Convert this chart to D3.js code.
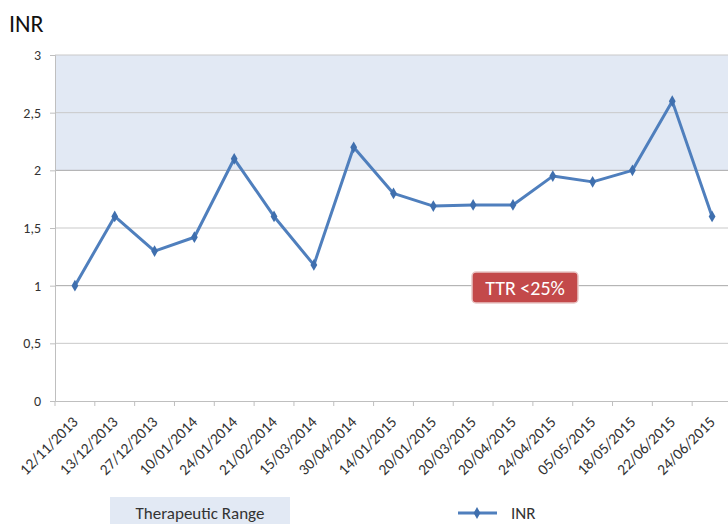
<!DOCTYPE html>
<html>
<head>
<meta charset="utf-8">
<script src="https://cdn.jsdelivr.net/npm/d3@7"></script>
<style>
  body { margin: 0; background: #fff; }
  svg { display: block; font-family: Carlito, Lato, "Open Sans", sans-serif; }
</style>
</head>
<body>
<svg id="chart" width="728" height="524"></svg>
<script>
const dates = ["12/11/2013", "13/12/2013", "27/12/2013", "10/01/2014", "24/01/2014",
    "21/02/2014", "15/03/2014", "30/04/2014", "14/01/2015", "20/01/2015", "20/03/2015",
    "20/04/2015", "24/04/2015", "05/05/2015", "18/05/2015", "22/06/2015", "24/06/2015"];
const inr = [1.0, 1.6, 1.3, 1.42, 2.1, 1.6, 1.18, 2.2, 1.8, 1.69, 1.7, 1.7, 1.95, 1.9, 2.0, 2.6, 1.6];
const yTicks = [0, 0.5, 1, 1.5, 2, 2.5, 3];
const rangeLow = 2, rangeHigh = 3;
const ttrLabel = "TTR <25%";

const fontFam = 'Carlito, Lato, "Open Sans", sans-serif';
const svg = d3.select('#chart');
const plotLeft = 55, plotRight = 732, plotTop = 55, plotBottom = 401;

const x = d3.scaleBand().domain(dates).range([plotLeft, plotRight]);
const y = d3.scaleLinear().domain([0, 3]).range([plotBottom, plotTop]);

// title
svg.append('text')
    .attr('x', 9).attr('y', 32)
    .attr('font-size', 24).attr('fill', '#111')
    .text('INR');

// therapeutic range band
svg.append('rect')
    .attr('x', plotLeft).attr('y', y(rangeHigh))
    .attr('width', plotRight - plotLeft).attr('height', y(rangeLow) - y(rangeHigh))
    .attr('fill', '#e2e9f4');

// gridlines
svg.append('g')
    .selectAll('line')
    .data(yTicks.filter(d => d > 0))
    .join('line')
    .attr('x1', plotLeft).attr('x2', plotRight)
    .attr('y1', d => y(d)).attr('y2', d => y(d))
    .attr('stroke', d => (d === 1 || d === 2) ? '#a8a8a8' : '#c9c9c9')
    .attr('stroke-width', 1);

// y axis
const yAxis = svg.append('g')
    .attr('transform', `translate(${plotLeft},0)`)
    .call(d3.axisLeft(y).tickValues(yTicks).tickSize(5)
        .tickFormat(d => String(d).replace('.', ',')));
yAxis.select('.domain').attr('stroke', '#bfbfbf');
yAxis.selectAll('.tick line').attr('stroke', '#bfbfbf');
yAxis.selectAll('.tick text')
    .attr('x', -14).attr('font-size', 14).attr('fill', '#333')
    .attr('font-family', fontFam);

// x axis
const xAxis = svg.append('g')
    .attr('transform', `translate(0,${plotBottom})`)
    .call(d3.axisBottom(x).tickSize(0));
xAxis.select('.domain').attr('stroke', '#bfbfbf');
xAxis.selectAll('.tick text')
    .attr('font-size', 15.5).attr('fill', '#333')
    .attr('font-family', fontFam)
    .attr('text-anchor', 'end')
    .attr('x', 0).attr('y', 0).attr('dy', 0)
    .attr('transform', 'translate(4,22) rotate(-45)');

// tick marks at band edges
svg.append('g')
    .selectAll('line')
    .data(dates)
    .join('line')
    .attr('x1', d => x(d)).attr('x2', d => x(d))
    .attr('y1', plotBottom).attr('y2', plotBottom + 5)
    .attr('stroke', '#bfbfbf');

// INR line
const line = d3.line()
    .x((d, i) => x(dates[i]) + x.bandwidth() / 2)
    .y(d => y(d));

svg.append('path')
    .datum(inr)
    .attr('fill', 'none')
    .attr('stroke', '#4f7fbd')
    .attr('stroke-width', 3)
    .attr('stroke-linejoin', 'round')
    .attr('d', line);

const diamond = d3.symbol().type(d3.symbolDiamond).size(40);
svg.append('g')
    .selectAll('path')
    .data(inr)
    .join('path')
    .attr('transform', (d, i) => `translate(${x(dates[i]) + x.bandwidth() / 2},${y(d)})`)
    .attr('d', diamond)
    .attr('fill', '#3f6fae');

// TTR label
const ttr = svg.append('g').attr('transform', 'translate(525,287.5)');
ttr.append('rect')
    .attr('x', -53).attr('y', -15.5)
    .attr('width', 106).attr('height', 31)
    .attr('rx', 4)
    .attr('fill', '#c3494a')
    .attr('stroke', '#e9c6c6').attr('stroke-width', 1.5);
ttr.append('text')
    .attr('text-anchor', 'middle').attr('dy', '0.36em')
    .attr('font-size', 20).attr('fill', '#fff')
    .text(ttrLabel);

// legend
const legend = svg.append('g');
legend.append('rect')
    .attr('x', 110).attr('y', 497)
    .attr('width', 180).attr('height', 28)
    .attr('fill', '#e2e9f4');
legend.append('text')
    .attr('x', 200).attr('y', 519)
    .attr('text-anchor', 'middle')
    .attr('font-size', 17).attr('fill', '#333')
    .text('Therapeutic Range');

legend.append('line')
    .attr('x1', 458).attr('x2', 497)
    .attr('y1', 513).attr('y2', 513)
    .attr('stroke', '#4f7fbd').attr('stroke-width', 3);
legend.append('path')
    .attr('transform', 'translate(477,513)')
    .attr('d', diamond)
    .attr('fill', '#3f6fae');
legend.append('text')
    .attr('x', 511).attr('y', 519)
    .attr('font-size', 17).attr('fill', '#333')
    .text('INR');
</script>
</body>
</html>
